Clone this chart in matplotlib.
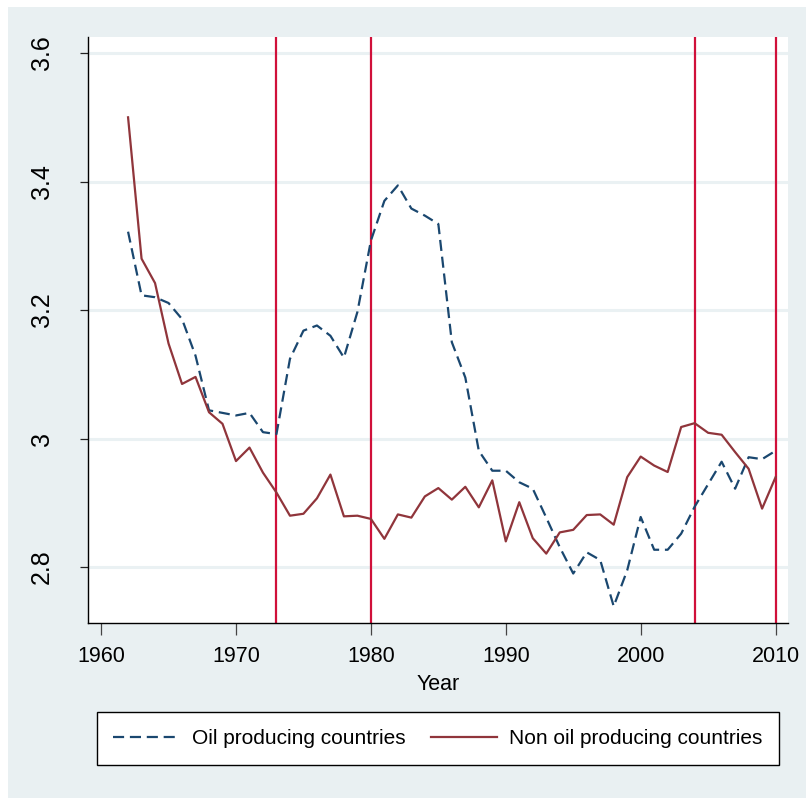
import matplotlib
matplotlib.use("Agg")
from matplotlib import pyplot as plt
from matplotlib.patches import Rectangle

years = list(range(1962, 2011))

oil = [3.322, 3.223, 3.220, 3.211, 3.186, 3.129, 3.044, 3.040, 3.036, 3.040,
       3.010, 3.007, 3.124, 3.168, 3.176, 3.160, 3.126, 3.197, 3.308, 3.370,
       3.394, 3.358, 3.347, 3.334, 3.150, 3.095, 2.981, 2.950, 2.950, 2.932,
       2.922, 2.877, 2.831, 2.790, 2.823, 2.811, 2.739, 2.795, 2.878, 2.827,
       2.827, 2.852, 2.894, 2.929, 2.964, 2.922, 2.971, 2.968, 2.981]

non_oil = [3.500, 3.280, 3.242, 3.148, 3.085, 3.096, 3.041, 3.023, 2.965, 2.986,
           2.947, 2.916, 2.880, 2.883, 2.907, 2.944, 2.879, 2.880, 2.875, 2.844,
           2.882, 2.877, 2.910, 2.923, 2.905, 2.925, 2.893, 2.935, 2.840, 2.901,
           2.845, 2.821, 2.854, 2.858, 2.881, 2.882, 2.866, 2.940, 2.972, 2.958,
           2.948, 3.018, 3.024, 3.009, 3.006, 2.979, 2.953, 2.891, 2.940]

event_years = [1973, 1980, 2004, 2010]
x_ticks = [1960, 1970, 1980, 1990, 2000, 2010]
y_ticks = [2.8, 3.0, 3.2, 3.4, 3.6]
y_labels = ["2.8", "3", "3.2", "3.4", "3.6"]

font = "Liberation Sans"

bg = "#E9F0F2"
navy = "#1A476F"
maroon = "#90353B"
red = "#D0103A"

fig = plt.figure(figsize=(8.06, 7.99), dpi=100, facecolor="white")
fig.patches.append(Rectangle((8 / 806, 1 / 799), 1 - 8 / 806, 791 / 799,
                             transform=fig.transFigure, facecolor=bg,
                             edgecolor="none", zorder=-10))

ax = fig.add_axes([88 / 806, 176 / 799, 700 / 806, 586 / 799])
ax.set_facecolor("white")

for yv in y_ticks:
    ax.axhline(yv, color="#EAF1F3", linewidth=2.2, zorder=1)

for ev in event_years:
    ax.axvline(ev, color=red, linewidth=1.6, zorder=2)

ax.plot(years, oil, color=navy, linewidth=1.6, linestyle=(0, (5, 2.6)),
        label="Oil producing countries", zorder=3)
ax.plot(years, non_oil, color=maroon, linewidth=1.6,
        label="Non oil producing countries", zorder=3)

ax.set_xlim(1959.03, 2010.92)
ax.set_ylim(2.713, 3.625)

ax.set_xticks(x_ticks)
ax.set_xticklabels([str(x) for x in x_ticks], fontfamily=font, fontsize=15.5)
ax.set_yticks(y_ticks)
ax.set_yticklabels(y_labels, fontfamily=font, fontsize=18, rotation=90,
                   va="center")

ax.tick_params(axis="x", length=8.6, width=0.9, color="#444444", pad=8)
ax.tick_params(axis="y", length=5.8, width=0.9, color="#222222", pad=19)

for side in ["top", "right"]:
    ax.spines[side].set_visible(False)
for side in ["left", "bottom"]:
    ax.spines[side].set_color("black")
    ax.spines[side].set_linewidth(1.0)

ax.set_xlabel("Year", fontfamily=font, fontsize=15.5, labelpad=5)

leg = fig.legend(loc="center", bbox_to_anchor=(438 / 806, 1 - 738.5 / 799),
                 ncol=2, prop={"family": font, "size": 15},
                 frameon=True, fancybox=False, framealpha=1,
                 edgecolor="black", handlelength=3.2, handletextpad=0.58,
                 columnspacing=1.2, borderpad=0.8)
leg.get_frame().set_linewidth(1.0)

fig.savefig("out.png", dpi=100, facecolor="white")
